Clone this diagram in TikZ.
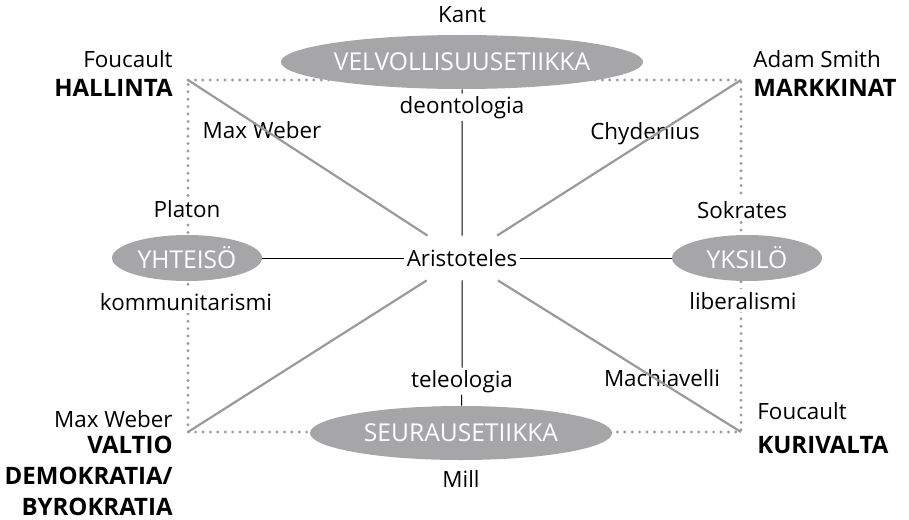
\documentclass[tikz,border=0pt]{standalone}
\usepackage{fontspec}
\setmainfont{Open Sans}
\usepackage{xcolor}
\usetikzlibrary{shapes.geometric,backgrounds}
\definecolor{ovalgray}{HTML}{A6A6A8}
\definecolor{diaggray}{HTML}{9A9A9A}
\definecolor{dotgray}{HTML}{9C9C9C}

\begin{document}
\begin{tikzpicture}[x=0.5pt, y=-0.5pt,
		every node/.style={font=\fontsize{11.2}{13}\selectfont, color=black},
		oval/.style={ellipse, fill=ovalgray, inner sep=0pt, text=white, font=\fontsize{12.3}{14}\selectfont},
		bigoval/.style={oval, minimum width=151pt, minimum height=27pt},
		smalloval/.style={oval, minimum width=75pt, minimum height=23pt},
		onaxis/.style={fill=white, inner xsep=2pt, inner ysep=1pt},
		who/.style={inner sep=0pt},
		field/.style={inner sep=0pt, font=\fontsize{12}{14}\selectfont\bfseries},
		axis/.style={draw=black, line width=0.5pt},
		diag/.style={draw=diaggray, line width=1.1pt},
		frame/.style={draw=dotgray, line width=1.6pt, line cap=round, dash pattern=on 0pt off 3.7pt}
	]
	\useasboundingbox (0,0) rectangle (909,519);

	% corners of the dotted frame
	\coordinate (tl) at (188,80);
	\coordinate (tr) at (741,80);
	\coordinate (br) at (741,432);
	\coordinate (bl) at (188,432);

	% the four ethics / social ovals
	\node[bigoval] (velv) at (462,62) {VELVOLLISUUSETIIKKA};
	\node[bigoval] (seur) at (461,433) {SEURAUSETIIKKA};
	\node[smalloval] (yhteiso) at (187,258) {YHTEISÖ};
	\node[smalloval] (yksilo) at (747,258) {YKSILÖ};

	% texts on the axes
	\node[fill=white, inner xsep=1pt, minimum height=22pt] (arist) at (462,258) {Aristoteles};
	\node[onaxis, anchor=base] (deont) at (462,113) {deontologia};
	\node[onaxis, anchor=base] (teleo) at (462,387) {teleologia};
	\node[onaxis, anchor=base, inner ysep=1.5pt] (platon) at (187,217) {Platon};
	\node[onaxis, anchor=base, inner ysep=1.5pt] (komm) at (186,310) {kommunitarismi};
	\node[onaxis, anchor=base, inner ysep=1.5pt] (sokr) at (742,218) {Sokrates};
	\node[onaxis, anchor=base, inner ysep=1.5pt] (liber) at (743,309) {liberalismi};

	% names by the ovals and the diagonals
	\node[who, anchor=base] (kant) at (462,23) {Kant};
	\node[who, anchor=base] (mill) at (461,487) {Mill};
	\node[who, anchor=base] (weberA) at (262,138) {Max Weber};
	\node[who, anchor=base] (chyd) at (645,140) {Chydenius};
	\node[who, anchor=base] (machia) at (662,386) {Machiavelli};

	% corners
	\node[who, anchor=base east] (foucA) at (173,68) {Foucault};
	\node[field, anchor=base east] (hallinta) at (173,97) {HALLINTA};
	\node[who, anchor=base west] (smith) at (753,68) {Adam Smith};
	\node[field, anchor=base west] (markkinat) at (753,97) {MARKKINAT};
	\node[who, anchor=base east] (weberB) at (173,427) {Max Weber};
	\node[field, anchor=base east] (valtio) at (173,453) {VALTIO};
	\node[field, anchor=base east] (demokr) at (173,484) {DEMOKRATIA/};
	\node[field, anchor=base east] (byrokr) at (173,515) {BYROKRATIA};
	\node[who, anchor=base west] (foucB) at (757,419) {Foucault};
	\node[field, anchor=base west] (kurivalta) at (757,453) {KURIVALTA};

	\begin{scope}[on background layer]
		\draw[frame] (tl) -- (tr) -- (br) -- (bl) -- cycle;
	\end{scope}

	\draw[axis] (velv) -- (deont) -- (arist) -- (teleo) -- (seur);
	\draw[axis] (yhteiso) -- (arist) -- (yksilo);

	\draw[diag] (tl) -- (arist);
	\draw[diag] (tr) -- (arist);
	\draw[diag] (bl) -- (arist);
	\draw[diag] (br) -- (arist);
\end{tikzpicture}
\end{document}
